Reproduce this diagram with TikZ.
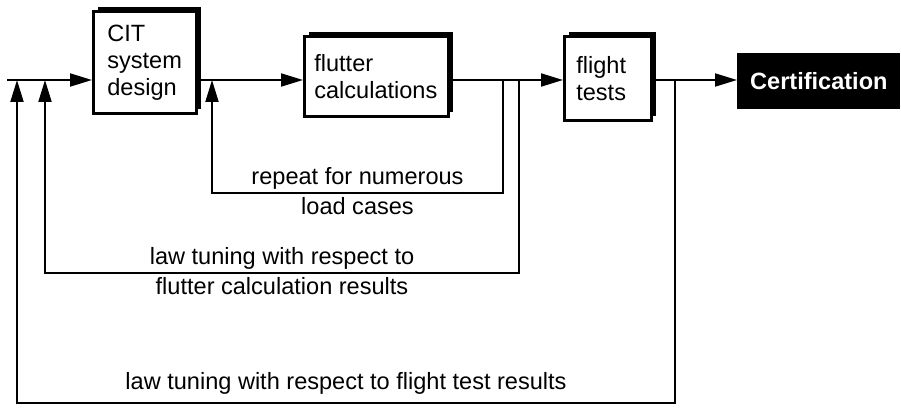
\documentclass[tikz,border=0pt]{standalone}
\usepackage{fontspec}
\setmainfont{Liberation Sans}
\usetikzlibrary{arrows.meta,shadows}

\begin{document}
\begin{tikzpicture}[font=\fontsize{13.4pt}{15.4pt}\selectfont,
  flow/.style={line width=1.1pt,-{Triangle[length=0.44cm,width=0.26cm]}},
  block/.style={draw,line width=1.5pt,fill=white,align=left,anchor=south west,
    general shadow={shadow xshift=0.1cm,shadow yshift=0.1cm,fill=black}},
  lbl/.style={inner sep=0.06cm}]
  \useasboundingbox (0,0) rectangle (18.02,8.28);
  \node[block,inner xsep=0.28cm,text width=1.5cm,minimum height=2.04cm] (cit) at (1.84,5.98) {CIT\\system\\design};
  \node[block,inner xsep=0.2cm,text width=2.48cm,minimum height=1.6cm] (flutter) at (6.06,5.92) {flutter\\calculations};
  \node[block,inner xsep=0.24cm,text width=1.26cm,minimum height=1.68cm] (flight) at (11.26,5.84) {flight\\tests};
  \node[fill=black,text=white,font=\fontsize{13.4pt}{15.4pt}\selectfont\bfseries,
    anchor=south west,minimum width=3.26cm,minimum height=1.12cm] (cert) at (14.74,6.1) {Certification};
  \coordinate (start) at (0.14,6.68);
  \coordinate (j1) at (0.34,6.68);
  \coordinate (j2) at (0.9,6.68);
  \coordinate (j3) at (4.24,6.68);
  \coordinate (t3) at (10.06,6.68);
  \coordinate (t2) at (10.38,6.68);
  \coordinate (t1) at (13.5,6.68);
  \draw[flow] (start) -- (start -| cit.west);
  \draw[flow] (start -| cit.east) -- (start -| flutter.west);
  \draw[flow] (start -| flutter.east) -- (start -| flight.west);
  \draw[flow] (start -| flight.east) -- (start -| cert.west);
  \draw[flow] (t3) -- ++(0,-2.26) -| node[lbl,pos=0.25,above] {repeat for numerous}
    node[lbl,pos=0.25,below] {load cases} (j3);
  \draw[flow] (t2) -- ++(0,-3.86) -| node[lbl,pos=0.25,above] {law tuning with respect to}
    node[lbl,pos=0.25,below] {flutter calculation results} (j2);
  \draw[flow] (t1) -- ++(0,-6.46) -| node[lbl,pos=0.25,above=0.1cm] {law tuning with respect to flight test results} (j1);
\end{tikzpicture}
\end{document}
